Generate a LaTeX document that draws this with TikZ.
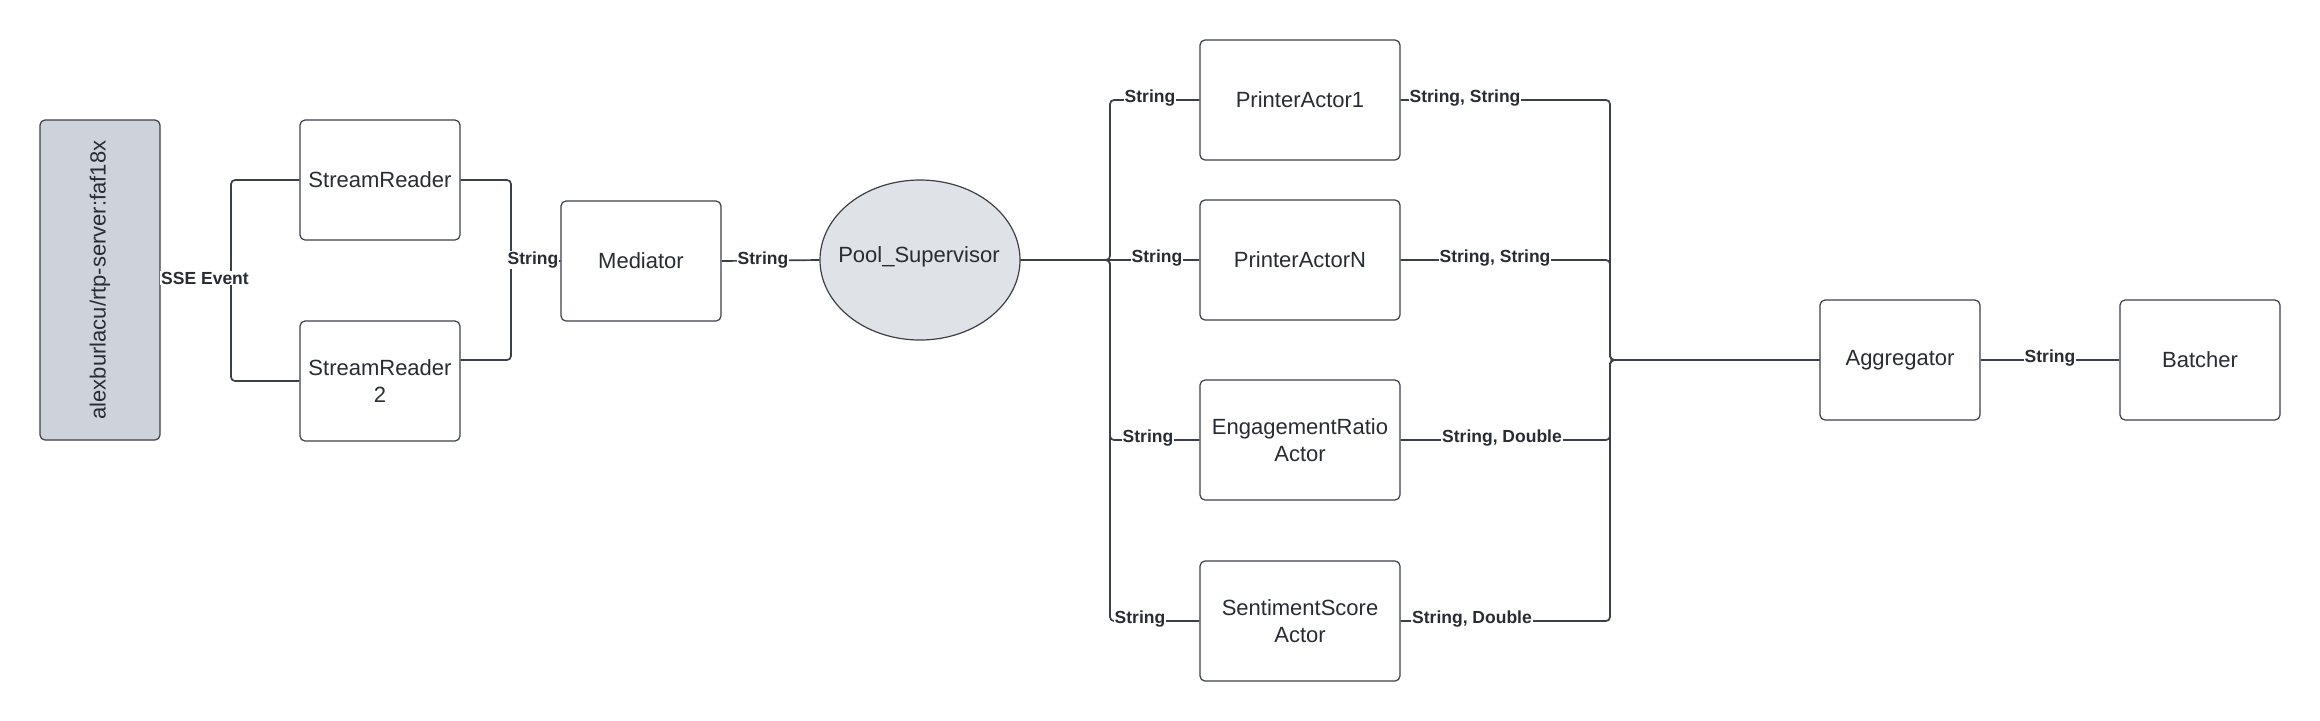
\documentclass[tikz,border=0pt]{standalone}
\usepackage{fontspec}
\setmainfont{Liberation Sans}
\usetikzlibrary{shapes.geometric,calc}
\definecolor{ln}{HTML}{3B4048}
\definecolor{tx}{HTML}{282C33}
\definecolor{srcfill}{HTML}{CED3DB}
\definecolor{poolfill}{HTML}{DFE2E7}
\begin{document}
\begin{tikzpicture}[x=0.5pt,y=-0.5pt,
  box/.style={draw=ln,line width=0.6pt,rounded corners=2.5pt,minimum width=80pt,minimum height=60pt,align=center,text=tx,font=\fontsize{11}{13.5}\selectfont,inner sep=0pt},
  wide/.style={box,minimum width=100pt},
  conn/.style={draw=ln,line width=0.85pt,rounded corners=2pt},
  lbl/.style={fill=white,text=tx,font=\bfseries\fontsize{8.75}{10}\selectfont,inner sep=0.5pt}]
\fill[white] (0,0) rectangle (2320,720);
\useasboundingbox (0,0) rectangle (2320,720);

% nodes
\node[box,fill=srcfill,minimum width=60pt,minimum height=160pt] (src) at (100,280) {};
\node[rotate=90,text=tx,font=\fontsize{11}{13.5}\selectfont] (srclbl) at (100,280) {alexburlacu/rtp-server:faf18x};
\node[box] (sr1) at (380,180) {StreamReader};
\node[box] (sr2) at (380,381) {StreamReader\\2};
\node[box] (med) at (641,261) {Mediator};
\node[ellipse,draw=ln,line width=0.6pt,fill=poolfill,minimum width=100pt,minimum height=80pt,inner sep=0pt] (pool) at (920,260) {};
\node[text=tx,font=\fontsize{11}{13.5}\selectfont] (poollbl) at (919,257) {Pool\_Supervisor};
\node[wide] (pa1) at (1300,100) {PrinterActor1};
\node[wide] (paN) at (1300,260) {PrinterActorN};
\node[wide] (era) at (1300,440) {EngagementRatio\\Actor};
\node[wide] (ssa) at (1300,621) {SentimentScore\\Actor};
\node[box] (agg) at (1900,360) {Aggregator};
\node[box] (bat) at (2200,360) {Batcher};

% bus points
\coordinate (busS) at (231,280);
\coordinate (busM) at (511,261);
\coordinate (busL) at (1110,260);
\coordinate (busR) at (1610,360);

% connectors
\draw[conn] (src.east) -- (busS) |- (sr1.west);
\draw[conn] (src.east) -- (busS) |- (sr2.west);
\draw[conn] (sr1.east) -| (busM) -- (med.west);
\draw[conn] ([yshift=10.5pt]sr2.east) -| (busM) -- (med.west);
\draw[conn] (med.east) -- (pool.west);
\draw[conn] (pool.east) -- (busL) |- (pa1.west);
\draw[conn] (pool.east) -- (paN.west);
\draw[conn] (pool.east) -- (busL) |- (era.west);
\draw[conn] (pool.east) -- (busL) |- (ssa.west);
\draw[conn] (pa1.east) -| (busR) -- (agg.west);
\draw[conn] (paN.east) -| (busR) -- (agg.west);
\draw[conn] (era.east) -| (busR) -- (agg.west);
\draw[conn] (ssa.east) -| (busR) -- (agg.west);
\draw[conn] (agg.east) -- (bat.west);

% labels
\node[lbl] (l1) at (205,278) {SSE Event};
\node[lbl] (l2) at (533,260) {String};
\node[lbl] (l3) at (763,260) {String};
\node[lbl] (l4) at (1150,98) {String};
\node[lbl] (l5) at (1157,258) {String};
\node[lbl] (l6) at (1148,438) {String};
\node[lbl] (l7) at (1140,619) {String};
\node[lbl] (l8) at (1465,98) {String, String};
\node[lbl] (l9) at (1495,258) {String, String};
\node[lbl] (l10) at (1502,438) {String, Double};
\node[lbl] (l11) at (1472,619) {String, Double};
\node[lbl] (l12) at (2050,358) {String};
\end{tikzpicture}
\end{document}
